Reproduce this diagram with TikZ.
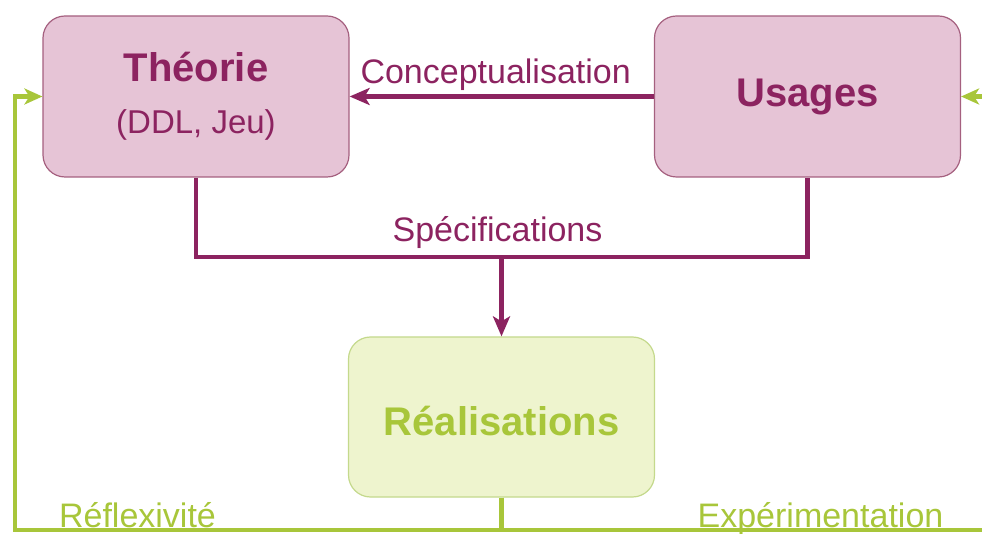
\documentclass[tikz,border=0pt]{standalone}
\usepackage{fontspec}
\setmainfont{Liberation Sans}
\usetikzlibrary{arrows.meta}
\definecolor{plum}{HTML}{8C2360}
\definecolor{plumfill}{HTML}{E6C4D6}
\definecolor{plumedge}{HTML}{A5607F}
\definecolor{lime}{HTML}{A8C63A}
\definecolor{limefill}{HTML}{EEF4CE}
\definecolor{limeedge}{HTML}{C4D98C}
\tikzset{
  boxp/.style={draw=plumedge, fill=plumfill, rounded corners=22pt, line width=1.2pt,
    minimum width=306pt, minimum height=161pt, text=plum, align=center,
    font=\fontsize{40}{44}\selectfont\bfseries},
  boxg/.style={boxp, draw=limeedge, fill=limefill, text=lime, minimum height=160pt},
  link/.style={draw=plum, line width=4.2pt},
  linka/.style={link, -{Stealth[length=20pt,width=17pt,inset=5pt]}},
  glink/.style={draw=lime, line width=4.2pt, -{Stealth[length=18pt,width=16pt,inset=5pt]}},
  labp/.style={text=plum, inner sep=0pt, font=\fontsize{34}{38}\selectfont},
  labg/.style={labp, text=lime, anchor=base}
}
\begin{document}
\begin{tikzpicture}[x=1pt,y=1pt]
  \useasboundingbox (0,0) rectangle (982,533);

  \node[boxp] (theorie) at (196,436.5) {Théorie\\[8pt]{\fontsize{33}{36}\selectfont\mdseries (DDL, Jeu)}};
  \node[boxp] (usages) at (807.5,436.5) {Usages};
  \node[boxg, text height=38pt] (realis) at (501.5,116) {Réalisations};

  \coordinate (spec) at (501.5,276);
  \coordinate (lbot) at (15,3);
  \coordinate (rbot) at (992,3);

  \draw[linka] (usages.west) -- (theorie.east)
    node[labp, pos=0.52, above=4pt] (conceptlab) {Conceptualisation};
  \draw[link] (theorie.south) |- (spec) -| (usages.south);
  \node[labp, above=8pt, xshift=-4pt] (speclab) at (spec) {Spécifications};
  \draw[linka] (spec) -- (realis.north);

  % labels first, the loop line covers the descender
  \node[labg] (reflab) at (137.5,6) {Réflexivité};
  \node[labg] (explab) at (820.5,6) {Expérimentation};
  \draw[glink] (realis.south) |- (lbot) |- (theorie.west);
  \draw[glink] (realis.south) |- (rbot) |- (usages.east);
\end{tikzpicture}
\end{document}
